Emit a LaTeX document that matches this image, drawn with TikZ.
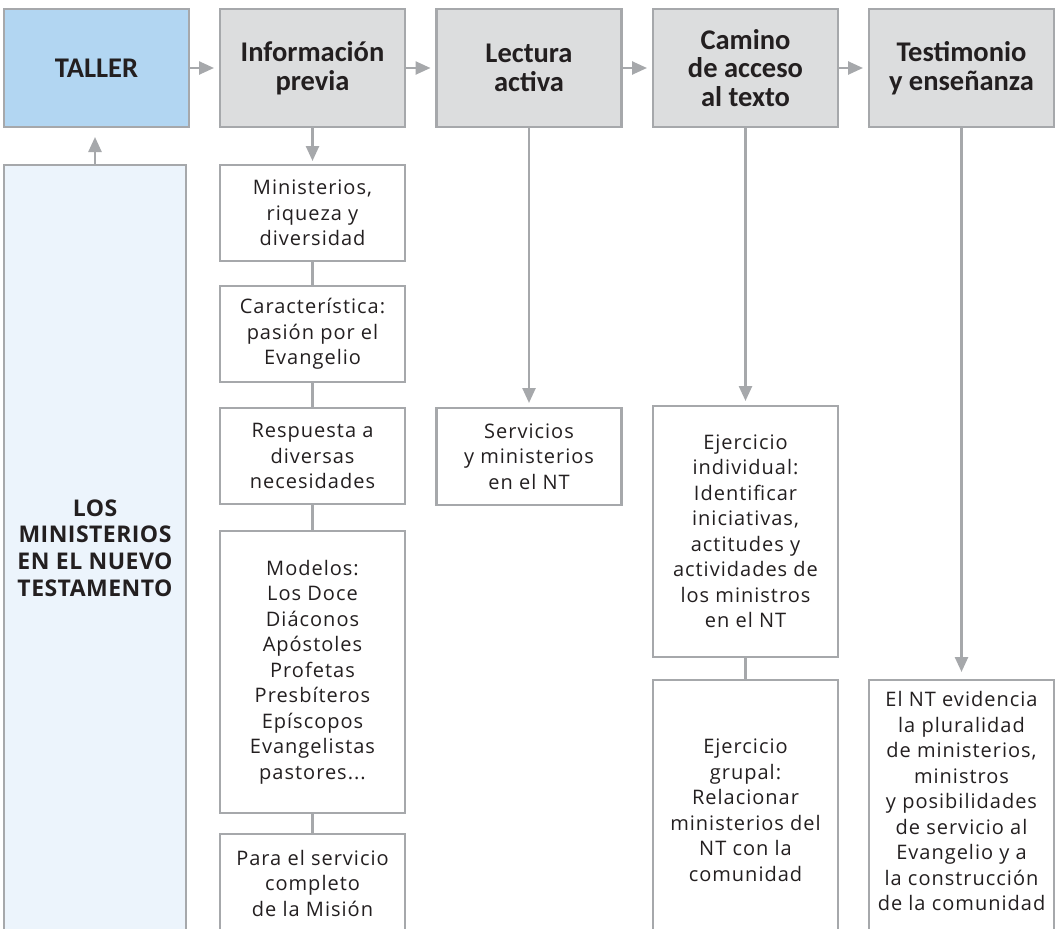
\documentclass[tikz,border=0pt]{standalone}
\usepackage{fontspec}
\usetikzlibrary{arrows.meta}
\newfontfamily\headf{Carlito}
\newfontfamily\bodyf[LetterSpace=5]{Open Sans}
\newfontfamily\losf[LetterSpace=2]{Open Sans}
\definecolor{edge}{HTML}{A6A8AB}
\definecolor{headfill}{HTML}{DCDDDE}
\definecolor{tallerfill}{HTML}{B2D6F2}
\definecolor{losfill}{HTML}{ECF4FC}
\definecolor{ink}{HTML}{231F20}
\tikzset{
  hbox/.style={draw=edge, line width=2.5pt, fill=headfill, minimum width=185pt,
    minimum height=118pt, anchor=north west, inner sep=0pt, outer sep=0pt,
    align=center, text=ink, font=\headf\bfseries\fontsize{28.5}{28.5}\selectfont},
  wbox/.style={draw=edge, line width=2.5pt, fill=white, minimum width=185pt,
    anchor=north west, inner sep=0pt, outer sep=0pt,
    align=center, text=ink, font=\bodyf\fontsize{20}{25.5}\selectfont},
  txt/.style={align=center, text=ink, inner sep=0pt, font=\bodyf\fontsize{20}{25.5}\selectfont},
  conn/.style={draw=edge, line width=2.5pt},
  arr/.style={conn, -{Triangle[length=15pt,width=13pt]}}
}
\begin{document}
\begin{tikzpicture}[x=1pt,y=-1pt]
\path[use as bounding box] (0,0) rectangle (1055,929);
\clip (0,0) rectangle (1055,929);
% header row
\node[hbox, fill=tallerfill] (taller) at (4,9) {TALLER};
\node[hbox] (info) at (220,9) {Información\\previa};
\node[hbox] (lect) at (436.5,9) {Lectura\\activa};
\node[hbox] (cam) at (653,9) {Camino\\de acceso\\al texto};
\node[hbox] (test) at (869,9) {Testimonio\\y enseñanza};
% left tall box
\node[wbox, fill=losfill, minimum width=182pt, minimum height=800pt] (los) at (4,165) {};
\node[align=center, text=ink, inner sep=0pt, font=\losf\bfseries\fontsize{23}{26.7}\selectfont] (lost) at (95,548) {LOS\\MINISTERIOS\\EN EL NUEVO\\TESTAMENTO};
% column 2
\node[wbox, minimum height=96pt] (b1) at (220,165) {Ministerios,\\riqueza y\\diversidad};
\node[wbox, minimum height=96pt] (b2) at (220,286) {Característica:\\pasión por el\\Evangelio};
\node[wbox, minimum height=96pt] (b3) at (220,408) {Respuesta a\\diversas\\necesidades};
\node[wbox, minimum height=282pt] (b4) at (220,531) {Modelos:\\Los Doce\\Diáconos\\Apóstoles\\Profetas\\Presbíteros\\Epíscopos\\Evangelistas\\pastores...};
\node[wbox, minimum height=130pt] (b5) at (220,834) {};
\node[txt] (b5t) at (312.5,883) {Para el servicio\\completo\\de la Misión};
% column 3
\node[wbox, minimum height=97pt] (serv) at (436.5,408) {Servicios\\y ministerios\\en el NT};
% column 4
\node[wbox, minimum height=251pt] (ind) at (653,406) {Ejercicio\\individual:\\Identificar\\iniciativas,\\actitudes y\\actividades de\\los ministros\\en el NT};
\node[wbox, minimum height=300pt] (grp) at (653,680) {};
\node[txt] (grpt) at (745.5,810) {Ejercicio\\grupal:\\Relacionar\\ministerios del\\NT con la\\comunidad};
% column 5
\node[wbox, minimum height=300pt] (ent) at (869,680) {};
\node[txt] (entt) at (961.5,801) {El NT evidencia\\la pluralidad\\de ministerios,\\ministros\\y posibilidades\\de servicio al\\Evangelio y a\\la construcción\\de la comunidad};
% connectors
\draw[arr, shorten >=6pt] (taller.east) -- (info.west);
\draw[arr, shorten >=6pt] (info.east) -- (lect.west);
\draw[arr, shorten >=6pt] (lect.east) -- (cam.west);
\draw[arr, shorten >=6pt] (cam.east) -- (test.west);
\draw[arr, shorten >=10pt] (los.north) -- (los.north |- taller.south);
\draw[arr, shorten >=4pt] (info.south) -- (b1.north);
\draw[arr, shorten >=5pt] (lect.south) -- (serv.north);
\draw[arr, shorten >=5pt] (cam.south) -- (ind.north);
\draw[arr, shorten >=8pt] (test.south) -- (ent.north);
\draw[conn] (b1.south) -- (b2.north);
\draw[conn] (b2.south) -- (b3.north);
\draw[conn] (b3.south) -- (b4.north);
\draw[conn] (b4.south) -- (b5.north);
\draw[conn] (ind.south) -- (grp.north);
\end{tikzpicture}
\end{document}
